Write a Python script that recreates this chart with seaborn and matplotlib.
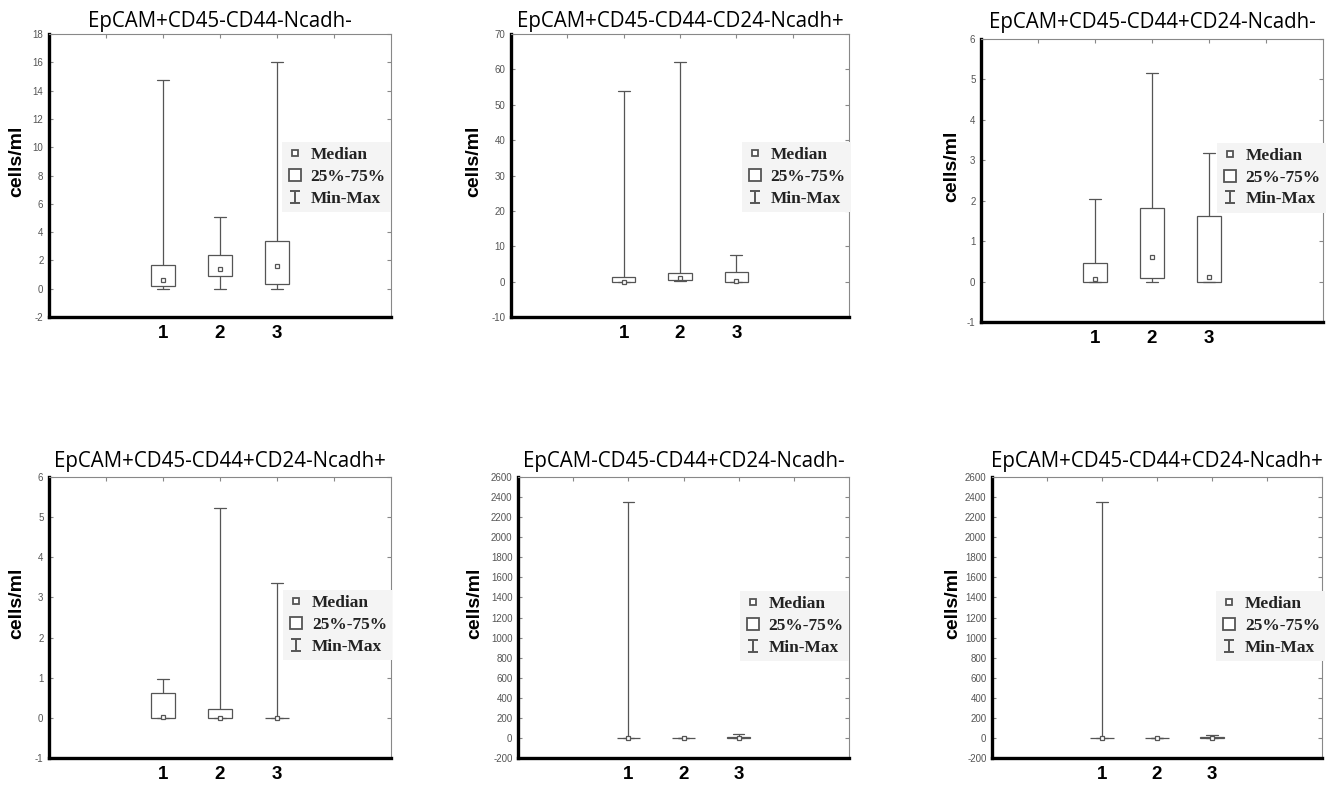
import numpy as np
import pandas as pd
import matplotlib
matplotlib.use("Agg")
import matplotlib.pyplot as plt
import seaborn as sns
from matplotlib.lines import Line2D
from matplotlib.path import Path

# ---------------- data ----------------
groups = ["1", "2", "3"]

titles = [
    "EpCAM+CD45-CD44-Ncadh-",
    "EpCAM+CD45-CD44-CD24-Ncadh+",
    "EpCAM+CD45-CD44+CD24-Ncadh-",
    "EpCAM+CD45-CD44+CD24-Ncadh+",
    "EpCAM-CD45-CD44+CD24-Ncadh-",
    "EpCAM+CD45-CD44+CD24-Ncadh+",
]

p1_min = [0.0, 0.0, 0.0]
p1_q1 = [0.21, 0.90, 0.35]
p1_med = [0.64, 1.39, 1.63]
p1_q3 = [1.65, 2.36, 3.39]
p1_max = [14.75, 5.04, 16.0]

p2_min = [0.0, 0.1, 0.0]
p2_q1 = [0.0, 0.5, 0.0]
p2_med = [0.0, 1.0, 0.1]
p2_q3 = [1.4, 2.45, 2.83]
p2_max = [53.9, 62.1, 7.45]

p3_min = [0.0, 0.0, 0.0]
p3_q1 = [0.0, 0.09, 0.0]
p3_med = [0.06, 0.61, 0.11]
p3_q3 = [0.45, 1.82, 1.63]
p3_max = [2.04, 5.17, 3.18]

p4_min = [0.0, 0.0, 0.0]
p4_q1 = [0.0, 0.0, 0.0]
p4_med = [0.01, 0.0, 0.0]
p4_q3 = [0.62, 0.23, 0.0]
p4_max = [0.97, 5.22, 3.37]

p5_min = [0.0, 0.0, 0.0]
p5_q1 = [0.0, 0.0, 0.0]
p5_med = [0.0, 0.0, 2.0]
p5_q3 = [4.0, 1.0, 10.0]
p5_max = [2355.0, 2.0, 35.0]

p6_min = [0.0, 0.0, 0.0]
p6_q1 = [0.0, 0.0, 0.0]
p6_med = [0.0, 0.0, 2.0]
p6_q3 = [4.0, 1.0, 8.0]
p6_max = [2355.0, 2.0, 30.0]

p1_yticks = [-2, 0, 2, 4, 6, 8, 10, 12, 14, 16, 18]
p2_yticks = [-10, 0, 10, 20, 30, 40, 50, 60, 70]
p3_yticks = [-1, 0, 1, 2, 3, 4, 5, 6]
p4_yticks = [-1, 0, 1, 2, 3, 4, 5, 6]
p56_yticks = [-200, 0, 200, 400, 600, 800, 1000, 1200, 1400, 1600,
              1800, 2000, 2200, 2400, 2600]

legend_labels = ["Median", "25%-75%", "Min-Max"]
ylabel = "cells/ml"

# ---------------- layout ----------------
W, H = 1330, 785
panels = [
    dict(title=titles[0], mn=p1_min, q1=p1_q1, md=p1_med, q3=p1_q3, mx=p1_max,
         yticks=p1_yticks, rect=(49, 34, 391, 317), tpad=5, ylx=-0.07, leg=(0.68, 0.495)),
    dict(title=titles[1], mn=p2_min, q1=p2_q1, md=p2_med, q3=p2_q3, mx=p2_max,
         yticks=p2_yticks, rect=(511, 34, 849, 317), tpad=5, ylx=-0.086, leg=(0.683, 0.495)),
    dict(title=titles[2], mn=p3_min, q1=p3_q1, md=p3_med, q3=p3_q3, mx=p3_max,
         yticks=p3_yticks, rect=(981, 39, 1323, 322), tpad=8, ylx=-0.061, leg=(0.69, 0.51)),
    dict(title=titles[3], mn=p4_min, q1=p4_q1, md=p4_med, q3=p4_q3, mx=p4_max,
         yticks=p4_yticks, rect=(49, 477, 391, 758), tpad=7, ylx=-0.07, leg=(0.685, 0.473)),
    dict(title=titles[4], mn=p5_min, q1=p5_q1, md=p5_med, q3=p5_q3, mx=p5_max,
         yticks=p56_yticks, rect=(518, 477, 849, 758), tpad=7, ylx=-0.106, leg=(0.67, 0.47)),
    dict(title=titles[5], mn=p6_min, q1=p6_q1, md=p6_med, q3=p6_q3, mx=p6_max,
         yticks=p56_yticks, rect=(992, 477, 1322, 758), tpad=7, ylx=-0.094, leg=(0.68, 0.47)),
]

LINE = "#555555"
sns.set_theme(style="white")
plt.rcParams["font.family"] = ["Liberation Sans", "DejaVu Sans"]

fig = plt.figure(figsize=(W / 100, H / 100), dpi=100)
fig.patch.set_facecolor("white")

ibeam = Path([(-0.8, 1), (0.8, 1), (0, 1), (0, -1), (-0.8, -1), (0.8, -1)],
             [Path.MOVETO, Path.LINETO, Path.MOVETO, Path.LINETO, Path.MOVETO, Path.LINETO])

for p in panels:
    l, t, r, b = p["rect"]
    ax = fig.add_axes([l / W, 1 - b / H, (r - l) / W, (b - t) / H])
    rows = []
    for g, a, q1, md, q3, mx in zip(groups, p["mn"], p["q1"], p["md"], p["q3"], p["mx"]):
        for v in (a, q1, md, q3, mx):
            rows.append({"group": g, "value": v})
    df = pd.DataFrame(rows)

    sns.boxplot(data=df, x="group", y="value", order=groups, whis=(0, 100), width=0.42,
                color="white", saturation=1, linecolor=LINE, linewidth=0.9,
                showfliers=False, medianprops=dict(linewidth=0), ax=ax)
    sns.pointplot(data=df, x="group", y="value", order=groups, estimator="median",
                  errorbar=None, linestyle="none", marker="s", markersize=3.3,
                  markerfacecolor="white", markeredgecolor=LINE, markeredgewidth=0.9,
                  color=LINE, ax=ax)

    yt = p["yticks"]
    ax.set_ylim(yt[0], yt[-1])
    ax.set_yticks(yt)
    ax.set_yticklabels([str(v) for v in yt])
    ax.set_xlim(-2, 4)
    ax.set_xticks([-1, 0, 1, 2, 3])
    ax.set_xticklabels(["", "1", "2", "3", ""])
    ax.tick_params(axis="x", bottom=False, top=True, direction="in", length=3,
                   width=0.8, color="#888888", labelsize=13.5, pad=6)
    for lab in ax.get_xticklabels():
        lab.set_fontweight("bold")
        lab.set_color("black")
    ax.tick_params(axis="y", left=True, right=True, direction="in", length=3,
                   width=0.8, color="#888888", labelsize=7, labelcolor="#555555", pad=4)
    ax.set_xlabel("")
    ax.set_ylabel(ylabel, fontsize=14, fontweight="bold", color="black")
    ax.yaxis.set_label_coords(p["ylx"], 0.55)

    for side in ("left", "bottom"):
        ax.spines[side].set_linewidth(2.4)
        ax.spines[side].set_color("black")
    for side in ("top", "right"):
        ax.spines[side].set_linewidth(0.8)
        ax.spines[side].set_color("#888888")

    ax.set_title(p["title"], fontsize=14.8, family=["Open Sans", "DejaVu Sans"],
                 color="black", pad=p["tpad"])

    handles = [
        Line2D([], [], linestyle="none", marker="s", markersize=3.8,
               markerfacecolor="white", markeredgecolor=LINE, markeredgewidth=1.3),
        Line2D([], [], linestyle="none", marker="s", markersize=9,
               markerfacecolor="white", markeredgecolor=LINE, markeredgewidth=1.3),
        Line2D([], [], linestyle="none", marker=ibeam, markersize=9,
               markeredgecolor=LINE, markeredgewidth=1.4, color=LINE),
    ]
    leg = ax.legend(handles, legend_labels, loc="center left", bbox_to_anchor=p["leg"],
                    frameon=True, facecolor="#f4f4f4", edgecolor="none", framealpha=1,
                    fancybox=False, handlelength=0.9, handletextpad=0.45, borderpad=0.3,
                    labelspacing=0.32, borderaxespad=0,
                    prop={"family": "Liberation Serif", "size": 12.5, "weight": "bold"})
    for txt in leg.get_texts():
        txt.set_color("#222222")

fig.savefig("out.png", dpi=100, facecolor="white")
